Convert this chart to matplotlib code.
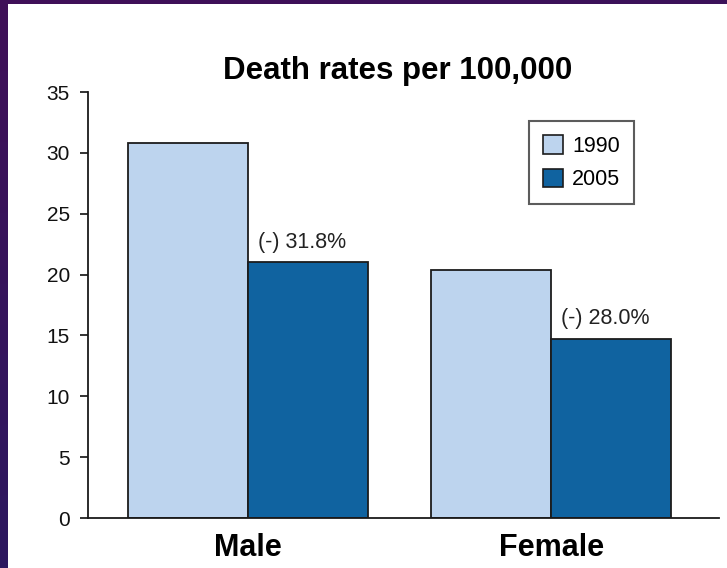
import numpy as np
import matplotlib
matplotlib.use("Agg")
import matplotlib.pyplot as plt
from matplotlib.patches import Rectangle, Patch

plt.rcParams['font.family'] = ['Liberation Sans', 'DejaVu Sans']

# Data
groups = ["Male", "Female"]
years = ["1990", "2005"]
rate_1990 = [30.8, 20.4]
pct_decline = [31.8, 28.0]
rate_2005 = [round(r * (1 - p / 100), 2) for r, p in zip(rate_1990, pct_decline)]
change_labels = [f"(-) {p:.1f}%" for p in pct_decline]
yticks = [0, 5, 10, 15, 20, 25, 30, 35]

light_blue = "#bdd4ee"
dark_blue = "#1063a0"
edge = "#1c1c1c"

W, H = 727, 568
fig = plt.figure(figsize=(W / 100, H / 100), dpi=100)

# Purple frame behind a white panel
bg = fig.add_axes([0, 0, 1, 1], zorder=-10)
gy = np.linspace(0, 1, 256)[:, None]
gx = np.linspace(0, 1, 256)[None, :]
top = np.array([0x40, 0x10, 0x58]) / 255
bot = np.array([0x28, 0x1a, 0x62]) / 255
t = np.clip(gy * 0.8 + gx * 0.2, 0, 1)[..., None]
grad = top * (1 - t) + bot * t
bg.imshow(grad, extent=[0, 1, 0, 1], aspect='auto', origin='upper')
bg.add_patch(Rectangle((8 / W, 0), 1, 1 - 4 / H, facecolor='white', edgecolor='none'))
bg.set_xlim(0, 1)
bg.set_ylim(0, 1)
bg.axis('off')

ax = fig.add_axes([88 / W, 50 / H, (719 - 88) / W, (518 - 92) / H])
ax.set_facecolor('none')

x = np.arange(len(groups))
w = 0.396
ax.bar(x - w / 2, rate_1990, width=w, color=light_blue, edgecolor=edge, linewidth=1.3, label=years[0])
bars05 = ax.bar(x + w / 2, rate_2005, width=w, color=dark_blue, edgecolor=edge, linewidth=1.3, label=years[1])

for b, lab in zip(bars05, change_labels):
    ax.annotate(lab, (b.get_x() + b.get_width() / 2, b.get_height()),
                xytext=(-4, 7), textcoords='offset points',
                ha='center', va='bottom', fontsize=15.5, color='#222222')

ax.set_xlim(-0.528, 1.554)
ax.set_ylim(0, 35)
ax.set_yticks(yticks)
ax.set_xticks(x)
ax.set_xticklabels(groups, fontsize=22, fontweight='bold')
ax.tick_params(axis='x', length=0, pad=11)
ax.tick_params(axis='y', length=6, width=1.2, pad=7, labelsize=15, colors='#111111')
for s in ['top', 'right']:
    ax.spines[s].set_visible(False)
for s in ['left', 'bottom']:
    ax.spines[s].set_linewidth(1.3)
    ax.spines[s].set_color('#1a1a1a')

fig.text(398 / W, 1 - 71 / H, "Death rates per 100,000", ha='center', va='center',
         fontsize=22.5, fontweight='bold')

handles = [Patch(facecolor=light_blue, edgecolor=edge, linewidth=1.2, label=years[0]),
           Patch(facecolor=dark_blue, edgecolor=edge, linewidth=1.2, label=years[1])]
leg = fig.legend(handles=handles, loc='upper left', bbox_to_anchor=(529 / W, 1 - 121 / H),
                 fontsize=15.5, frameon=True, fancybox=False, edgecolor='#333333',
                 handlelength=0.95, handleheight=0.95, handletextpad=0.4,
                 labelspacing=0.55, borderpad=0.65, borderaxespad=0)
leg.get_frame().set_linewidth(1.5)

fig.savefig("out.png", dpi=100)
